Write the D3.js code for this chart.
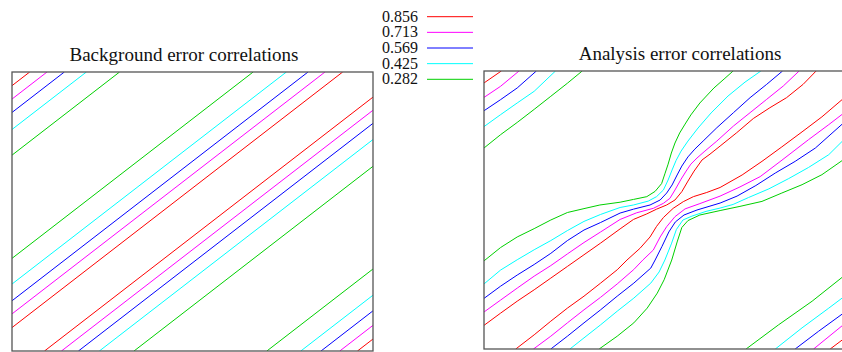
<!DOCTYPE html>
<html>
<head>
<meta charset="utf-8">
<script src="https://cdn.jsdelivr.net/npm/d3@7"></script>
<style>
  body { margin: 0; background: #fff; }
  svg { display: block; font-family: "Liberation Serif", "Times New Roman", serif; }
</style>
</head>
<body>
<div id="chart"></div>
<script>
// contour levels and their colours (legend order)
const levels = [0.856, 0.713, 0.569, 0.425, 0.282];
const levelColors = ["#ff0000", "#ff00ff", "#0000ff", "#00ffff", "#00d000"];
const titles = ["Background error correlations", "Analysis error correlations"];

// background: straight contours v = u + offset, grid units 0..100
// [top-left, upper, lower, bottom-right] per level
const bgOffsets = [
  [95.1, 8.4, -9.0, -95.7],
  [90.3, 13.3, -13.7, -90.8],
  [85.5, 18.0, -18.4, -85.6],
  [79.4, 24.0, -24.2, -80.0],
  [70.2, 33.2, -33.8, -70.6]
];

// analysis: contour polylines [u, v] per level, grid units 0..100
const anTopLeft = [
  [[0, 95.7], [4.8, 100]],
  [[0, 90.5], [4.6, 94.5], [9.7, 100]],
  [[0, 85.7], [4.6, 89.7], [9.2, 93.9], [14.5, 100]],
  [[0, 80.0], [4.6, 84.3], [9.2, 88.5], [13.9, 92.7], [19.8, 100]],
  [[0, 72.3], [4.6, 77.1], [9.2, 81.5], [13.9, 86.2], [18.5, 90.9], [23.1, 95.6], [27.2, 100]]
];

const anUpper = [
  [[0, 8.5], [4.6, 12.9], [9.2, 17.2], [13.9, 21.3], [18.5, 25.5], [23.1, 29.7], [27.7, 33.9], [32.3, 38.1],
   [37.7, 43.2], [41.4, 46.6], [45.1, 48.6], [47.8, 50.3], [50.6, 51.8], [52.9, 53.6], [54.8, 56.6], [56.5, 60.4],
   [58.2, 64.0], [60.4, 68.0], [62.6, 70.1], [65.4, 73.0], [70.0, 77.8], [74.6, 82.9], [79.2, 86.8], [83.8, 90.4],
   [88.4, 95.2], [92.0, 100]],
  [[0, 13.3], [4.6, 17.6], [9.2, 21.9], [13.9, 26.2], [18.5, 30.0], [23.1, 34.2], [27.7, 38.3], [32.3, 42.1],
   [37.7, 46.6], [42.3, 49.0], [46.9, 50.6], [49.7, 52.4], [51.5, 54.2], [52.9, 57.2], [54.6, 61.1], [56.0, 64.0],
   [57.3, 66.5], [59.0, 68.7], [61.2, 71.2], [64.5, 74.8], [69.1, 80.2], [73.7, 85.0], [78.3, 89.8], [82.9, 94.6],
   [87.3, 100]],
  [[0, 18.2], [4.6, 22.6], [9.2, 26.6], [13.9, 30.4], [18.5, 34.4], [23.1, 39.0], [27.7, 42.8], [32.3, 45.5],
   [37.7, 48.9], [41.4, 50.3], [46.0, 51.8], [48.8, 53.6], [50.6, 56.1], [52.1, 59.0], [53.5, 62.6], [54.8, 65.8],
   [56.5, 69.1], [58.4, 71.9], [60.7, 74.8], [64.5, 79.6], [69.1, 85.0], [73.7, 90.4], [78.3, 95.2], [82.7, 100]],
  [[0, 23.4], [4.6, 28.4], [9.2, 32.1], [13.9, 35.7], [18.5, 39.0], [23.1, 42.6], [27.7, 45.9], [32.3, 48.4],
   [37.7, 50.9], [41.4, 51.8], [45.5, 53.2], [47.8, 54.8], [49.7, 57.2], [51.0, 60.8], [52.1, 64.4], [53.2, 67.8],
   [54.6, 71.2], [56.5, 74.8], [59.3, 79.5], [62.9, 84.9], [67.6, 91.0], [72.3, 96.0], [76.7, 100]],
  [[0, 31.7], [4.6, 36.5], [9.2, 40.3], [13.9, 43.3], [18.5, 46.4], [23.1, 49.1], [27.7, 50.5], [32.1, 51.8],
   [37.7, 52.8], [41.4, 53.8], [45.1, 54.8], [47.4, 56.7], [49.2, 59.5], [50.1, 63.0], [51.0, 66.5], [51.9, 70.5],
   [52.9, 74.1], [54.2, 77.7], [55.7, 80.9], [57.3, 84.2], [59.8, 88.5], [63.7, 93.9], [66.5, 97.1], [69.0, 100]]
];

const anLower = [
  [[8.8, 0], [13.9, 5.1], [18.5, 10.0], [23.1, 14.7], [27.7, 19.0], [32.3, 23.7], [36.9, 28.5], [39.6, 32.0],
   [43.2, 36.2], [46.0, 40.3], [47.8, 44.1], [49.7, 47.3], [52.4, 50.6], [55.2, 53.0], [58.0, 54.8], [61.7, 56.3],
   [65.4, 58.1], [71.5, 62.6], [77.0, 67.5], [82.5, 72.7], [88.1, 78.1], [93.6, 83.5], [100, 90.6]],
  [[13.7, 0], [18.5, 4.6], [23.1, 9.4], [27.7, 14.1], [32.3, 18.6], [36.9, 23.4], [41.5, 28.6], [44.0, 32.0],
   [46.9, 35.6], [48.8, 40.3], [50.6, 44.0], [52.9, 47.6], [55.7, 50.4], [59.8, 52.3], [65.4, 55.0], [70.9, 58.3],
   [76.5, 62.0], [82.0, 67.4], [89.9, 75.3], [95.5, 80.7], [100, 85.2]],
  [[18.5, 0], [23.1, 4.6], [27.7, 9.4], [32.3, 14.1], [36.9, 19.0], [41.5, 23.7], [46.2, 29.1], [47.4, 32.0],
   [49.3, 36.9], [51.2, 42.1], [53.0, 45.7], [55.4, 48.2], [59.0, 50.0], [62.6, 51.4], [65.4, 52.5], [70.1, 55.0],
   [75.3, 58.8], [80.7, 63.3], [86.2, 67.5], [91.8, 72.3], [100, 81.8]],
  [[23.8, 0], [27.7, 4.0], [32.3, 8.7], [36.9, 13.6], [41.5, 18.3], [46.2, 23.7], [48.5, 27.7], [50.1, 32.0],
   [51.9, 37.8], [53.3, 43.0], [55.1, 46.4], [57.6, 47.8], [61.5, 49.5], [65.4, 50.7], [69.0, 52.0], [73.3, 54.5],
   [78.9, 57.6], [84.4, 61.3], [89.9, 65.3], [95.5, 69.9], [100, 75.7]],
  [[31.9, 0], [36.9, 4.6], [41.5, 9.4], [45.2, 14.7], [48.0, 20.1], [49.9, 24.9], [52.0, 32.0], [53.5, 38.5],
   [54.8, 43.7], [56.5, 46.2], [59.8, 48.2], [65.4, 49.8], [70.9, 51.3], [77.0, 53.1], [82.5, 56.1], [88.1, 59.1],
   [93.6, 62.7], [100, 68.5]]
];

const anBottomRight = [
  [[95.9, 0], [100, 4.0]],
  [[91.3, 0], [100, 9.2]],
  [[86.2, 0], [92.7, 6.4], [100, 13.3]],
  [[80.7, 0], [88.1, 7.6], [95.5, 14.7], [100, 19.1]],
  [[72.6, 0], [81.6, 8.7], [90.9, 17.2], [100, 26.6]]
];

const width = 842;
const height = 352;

const svg = d3.select("#chart")
  .append("svg")
  .attr("width", width)
  .attr("height", height);

// clip a diagonal v = u + d to the square 0..100
function diagSegment(d) {
  const u0 = Math.max(0, -d);
  const u1 = Math.min(100, 100 - d);
  return [[u0, u0 + d], [u1, u1 + d]];
}

function makePanel(box, title, titleX, titleY, lines, id) {
  const x = d3.scaleLinear().domain([0, 100]).range([box.left, box.right]);
  const y = d3.scaleLinear().domain([0, 100]).range([box.bottom, box.top]);

  svg.append("clipPath")
    .attr("id", id)
    .append("rect")
    .attr("x", box.left)
    .attr("y", box.top)
    .attr("width", box.right - box.left)
    .attr("height", box.bottom - box.top);

  const line = d3.line()
    .x(d => x(d[0]))
    .y(d => y(d[1]));

  svg.append("g")
    .attr("clip-path", `url(#${id})`)
    .selectAll("path")
    .data(lines)
    .enter()
    .append("path")
    .attr("d", d => line(d.points))
    .attr("fill", "none")
    .attr("stroke", d => levelColors[d.level])
    .attr("stroke-width", 1);

  svg.append("rect")
    .attr("x", box.left)
    .attr("y", box.top)
    .attr("width", box.right - box.left)
    .attr("height", box.bottom - box.top)
    .attr("fill", "none")
    .attr("stroke", "#555")
    .attr("stroke-width", 1.3);

  svg.append("text")
    .attr("x", titleX)
    .attr("y", titleY)
    .attr("text-anchor", "middle")
    .attr("font-size", 19)
    .attr("fill", "#111")
    .text(title);
}

// background panel lines
let bgLines = [];
bgOffsets.forEach((offs, i) => {
  offs.forEach(d => bgLines.push({level: i, points: diagSegment(d)}));
});

// analysis panel lines
let anLines = [];
[anTopLeft, anUpper, anLower, anBottomRight].forEach(group => {
  group.forEach((pts, i) => anLines.push({level: i, points: pts}));
});

makePanel({left: 12, right: 373, top: 72, bottom: 351}, titles[0], 184, 61, bgLines, "clipBg");
makePanel({left: 484, right: 845, top: 71, bottom: 349}, titles[1], 680, 60, anLines, "clipAn");

// legend
const legendY = d3.scalePoint()
  .domain(levels)
  .range([16.7, 79.3]);

const legend = svg.append("g");

legend.selectAll("text")
  .data(levels)
  .enter()
  .append("text")
  .attr("x", 418)
  .attr("y", d => legendY(d) + 5)
  .attr("text-anchor", "end")
  .attr("font-size", 16)
  .attr("fill", "#111")
  .text(d => d3.format(".3f")(d));

legend.selectAll("line")
  .data(levels)
  .enter()
  .append("line")
  .attr("x1", 427)
  .attr("x2", 473)
  .attr("y1", d => legendY(d))
  .attr("y2", d => legendY(d))
  .attr("stroke", (d, i) => levelColors[i])
  .attr("stroke-width", 1);
</script>
</body>
</html>
